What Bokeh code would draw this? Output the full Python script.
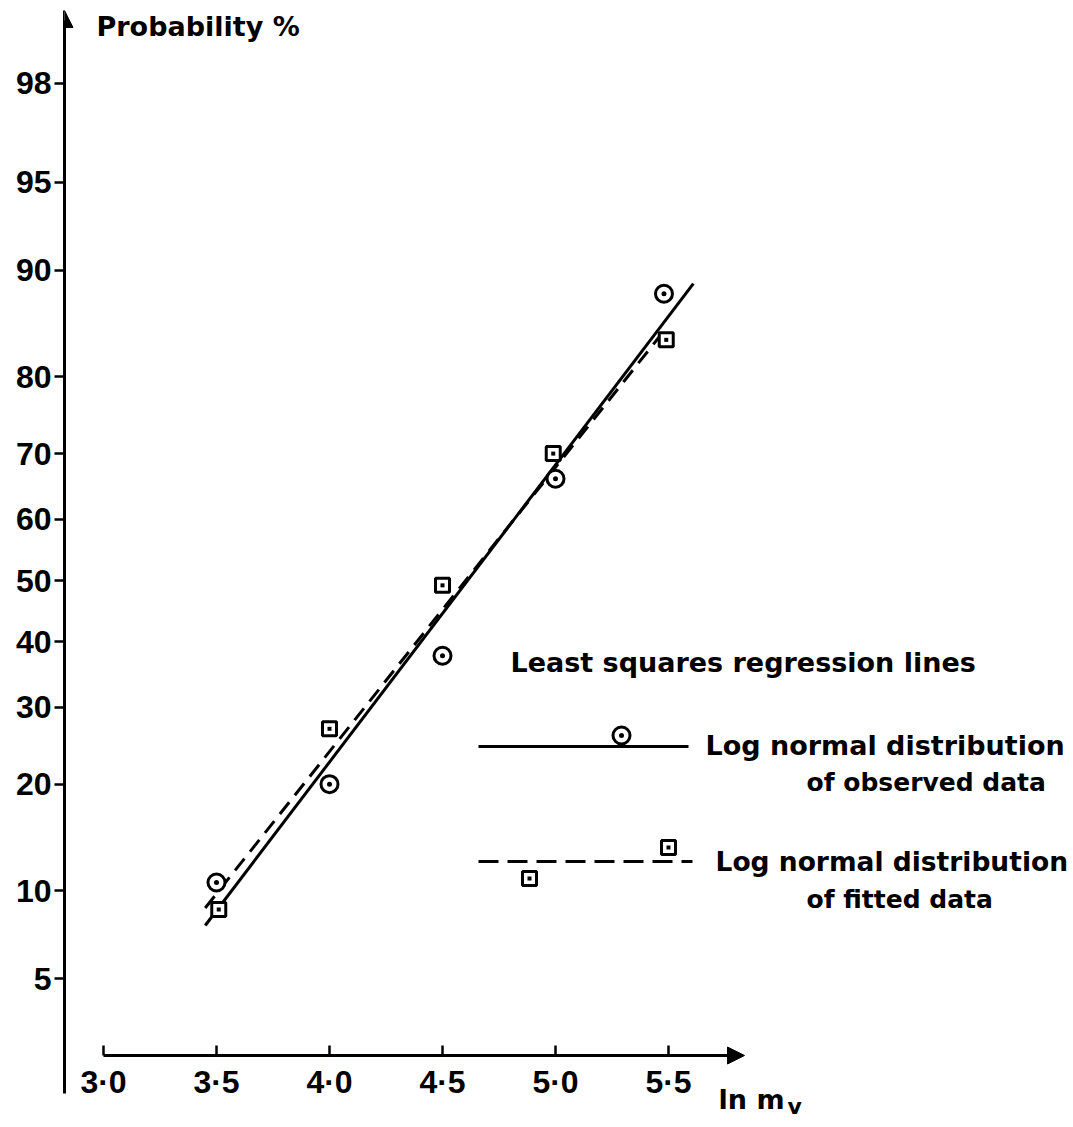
from statistics import NormalDist
from bokeh.plotting import figure
from bokeh.models import Range1d, LinearAxis, FixedTicker, Arrow, NormalHead, Label
from bokeh.embed import file_html
from bokeh.resources import INLINE

# ---------------- data ----------------
x_observed = [3.50, 4.00, 4.50, 5.00, 5.48]
p_observed = [10.6, 20.0, 37.8, 66.3, 88.2]          # probability %
x_fitted = [3.51, 4.00, 4.50, 4.99, 5.49]
p_fitted = [8.7, 27.0, 49.2, 70.0, 84.0]             # probability %

x_line_observed = [3.45, 5.61]                       # regression line, observed data
p_line_observed = [7.7, 89.0]
x_line_fitted = [3.45, 5.47]                         # regression line, fitted data
p_line_fitted = [8.8, 84.6]

y_tick_pct = [5, 10, 20, 30, 40, 50, 60, 70, 80, 90, 95, 98]
x_ticks = [3.0, 3.5, 4.0, 4.5, 5.0, 5.5]
x_tick_labels = ["3·0", "3·5", "4·0", "4·5", "5·0", "5·5"]

# ---------------- probability (probit) scale ----------------
_nd = NormalDist()


def probit(pct):
    return _nd.inv_cdf(pct / 100.0)


# layout helpers: page pixel -> data coordinates (for decorations only)
def X(px):
    return 3.0 + (px - 103) / 226.0


def Y(py):
    return (580 - py) / 242.0


p = figure(frame_width=1009, frame_height=1116,
           x_range=Range1d(X(64), X(1073)), y_range=Range1d(Y(1124), Y(8)),
           x_axis_type=None, y_axis_type=None,
           min_border_left=64, min_border_right=0, min_border_top=8, min_border_bottom=0,
           output_backend="svg", toolbar_location=None,
           outline_line_color=None, background_fill_color="white", border_fill_color="white")

AX_FONT = dict(major_label_text_font="Liberation Sans",
               major_label_text_font_size="32px",
               major_label_text_font_style="bold",
               major_label_text_color="black")

# y axis (probability scale)
y_tick_z = [probit(v) for v in y_tick_pct]
yaxis = LinearAxis(ticker=FixedTicker(ticks=y_tick_z),
                   major_label_overrides={z: str(v) for z, v in zip(y_tick_z, y_tick_pct)},
                   bounds=(Y(1093), Y(20)),
                   axis_line_width=3, axis_line_color="black",
                   major_tick_out=10, major_tick_in=0, major_tick_line_width=2.5,
                   minor_tick_line_color=None,
                   major_label_standoff=3, **AX_FONT)
p.add_layout(yaxis, "left")

# x axis
xaxis = LinearAxis(ticker=FixedTicker(ticks=x_ticks),
                   major_label_overrides=dict(zip(x_ticks, x_tick_labels)),
                   bounds=(3.0, X(730)),
                   fixed_location=Y(1055),
                   axis_line_width=3, axis_line_color="black",
                   major_tick_in=10, major_tick_out=0, major_tick_line_width=2.5,
                   minor_tick_line_color=None,
                   major_label_standoff=8, **AX_FONT)
p.add_layout(xaxis, "below")

# axis arrow heads
p.add_layout(Arrow(end=NormalHead(size=17, fill_color="black", line_color="black"),
                   x_start=X(64), y_start=Y(40), x_end=X(64), y_end=Y(10),
                   line_width=3, line_color="black"))
p.add_layout(Arrow(end=NormalHead(size=17, fill_color="black", line_color="black"),
                   x_start=X(715), y_start=Y(1055), x_end=X(744), y_end=Y(1055),
                   line_width=3, line_color="black"))

# regression lines
p.line(x_line_observed, [probit(v) for v in p_line_observed],
       line_width=3, line_color="black")
p.line(x_line_fitted, [probit(v) for v in p_line_fitted],
       line_width=3, line_color="black", line_dash="15 9")


def circle_dot(xs, ys):
    p.scatter(xs, ys, marker="circle", size=17,
              fill_color="white", line_color="black", line_width=3)
    p.scatter(xs, ys, marker="circle", size=5, fill_color="black", line_color=None)


def square_dot(xs, ys):
    p.scatter(xs, ys, marker="square", size=14,
              fill_color="white", line_color="black", line_width=3)
    p.scatter(xs, ys, marker="square", size=4, fill_color="black", line_color=None)


# data points
circle_dot(x_observed, [probit(v) for v in p_observed])
square_dot(x_fitted, [probit(v) for v in p_fitted])

# legend (hand drawn as in the original)
p.line([X(478), X(688)], [Y(746), Y(746)], line_width=3, line_color="black")
p.line([X(478), X(692)], [Y(861), Y(861)], line_width=3, line_color="black", line_dash="20 9")
circle_dot([X(621)], [Y(735)])
square_dot([X(668), X(529)], [Y(847), Y(878)])

BOLD = dict(text_font="DejaVu Sans", text_font_style="bold", text_color="black")
texts = [
    ("Probability %", 96, 26, "27px"),
    ("Least squares regression lines", 510, 662, "27px"),
    ("Log normal distribution", 705, 745, "27px"),
    ("of observed data", 806, 782, "25px"),
    ("Log normal distribution", 715, 861, "26.5px"),
    ("of fitted data", 806, 899, "25px"),
]
for t, px, py, fs in texts:
    p.add_layout(Label(x=X(px), y=Y(py), text=t, text_font_size=fs,
                       text_baseline="middle", text_align="left", **BOLD))

p.add_layout(Label(x=X(718), y=Y(1099), text="ln m", text_font_size="27px",
                   text_baseline="alphabetic", text_align="left", **BOLD))
p.add_layout(Label(x=X(787), y=Y(1106), text="v", text_font_size="22px",
                   text_baseline="alphabetic", text_align="left", **BOLD))

open("out.html", "w").write(file_html(p, INLINE))
